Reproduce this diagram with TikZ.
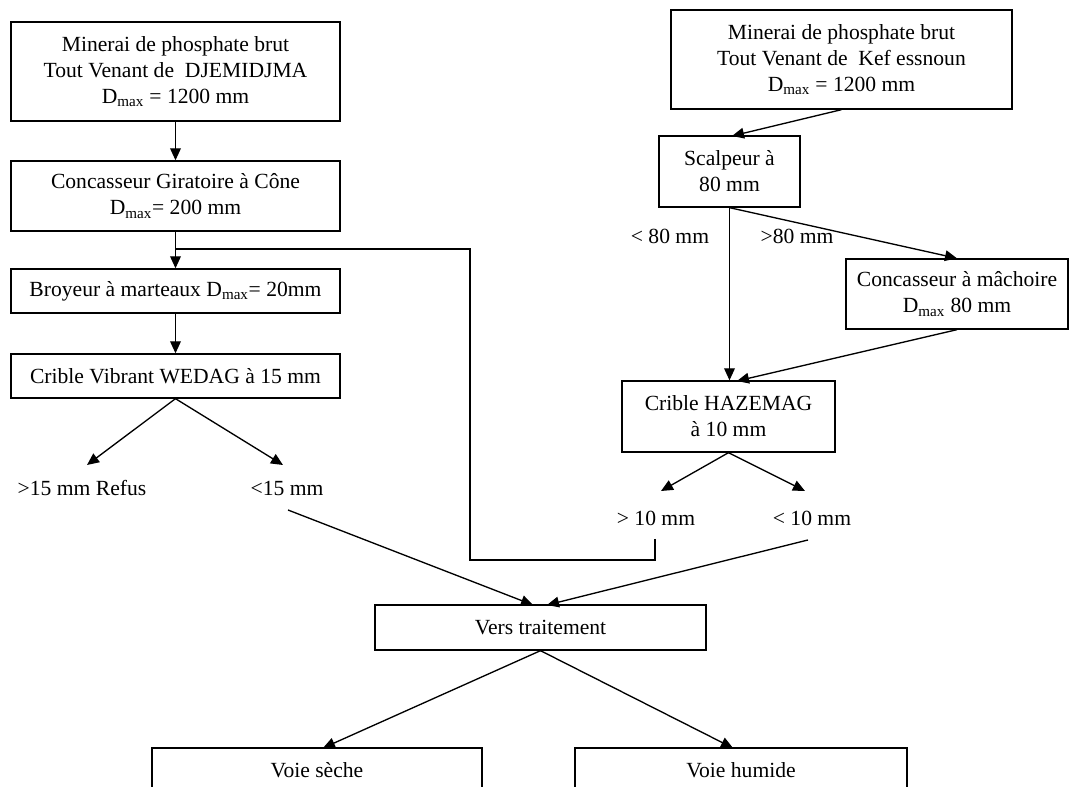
\documentclass[tikz,border=0pt]{standalone}
\usepackage{fontspec}
\setmainfont{Liberation Serif}
\usetikzlibrary{arrows.meta}
\begin{document}
\begin{tikzpicture}[x=0.75pt,y=-0.75pt,
  box/.style={draw,line width=1pt,align=center,inner sep=0pt,font=\fontsize{16.2}{19.5}\selectfont},
  lbl/.style={inner sep=0pt,font=\fontsize{16.2}{19.5}\selectfont},
  conn/.style={line width=1pt},
  arr/.style={conn,-{Triangle[length=9pt,width=8pt]}}]
\useasboundingbox (0,0) rectangle (1075,787);
\clip (0,0) rectangle (1075,787);
% left column
\node[box,minimum width=246.75pt,minimum height=74.25pt] (b1) at (175.5,71.5)
  {Minerai de phosphate brut\\Tout Venant de\ \ DJEMIDJMA\\D\textsubscript{max} = 1200 mm};
\node[box,minimum width=246.75pt,minimum height=52.5pt] (b2) at (175.5,196)
  {Concasseur\ Giratoire à Cône\\D\textsubscript{max}= 200 mm};
\node[box,minimum width=246.75pt,minimum height=33pt] (b3) at (175.5,291)
  {Broyeur à marteaux D\textsubscript{max}= 20mm};
\node[box,minimum width=246.75pt,minimum height=33pt] (b4) at (175.5,376)
  {Crible Vibrant WEDAG à 15 mm};
\node[lbl] (refus) at (82,488) {>15 mm Refus};
\node[lbl] (l15) at (287,488) {<15 mm};
% right column
\node[box,minimum width=255.75pt,minimum height=74.25pt] (r1) at (841.5,59.5)
  {Minerai de phosphate brut\\Tout Venant de\ \ Kef essnoun\\D\textsubscript{max} = 1200 mm};
\node[box,minimum width=105.75pt,minimum height=53.25pt] (sc) at (729.5,171.5)
  {Scalpeur à\\80 mm};
\node[lbl] (lt80) at (670,236) {< 80 mm};
\node[lbl] (gt80) at (797,236) {>80 mm};
\node[box,minimum width=166.5pt,minimum height=52.5pt] (cm) at (957,294)
  {Concasseur à mâchoire\\D\textsubscript{max} 80 mm};
\node[box,minimum width=159.75pt,minimum height=53.25pt] (ch) at (728.5,416.5)
  {Crible HAZEMAG\\à 10 mm};
\node[lbl] (g10) at (656,518) {> 10 mm};
\node[lbl] (l10) at (812,518) {< 10 mm};
% bottom
\node[box,minimum width=248.25pt,minimum height=33.75pt] (vt) at (540.5,627.5) {Vers traitement};
\node[box,minimum width=247.5pt,minimum height=33.75pt] (vs) at (317,770.5) {Voie sèche};
\node[box,minimum width=249pt,minimum height=33.75pt] (vh) at (741,770.5) {Voie humide};
% coordinates
\coordinate (g10out) at (655,539);
\coordinate (fbcorner) at (470,560);
\coordinate (fbtop) at (470,249);
\coordinate (t15a) at (87,465);
\coordinate (t15b) at (283,465);
\coordinate (l15out) at (288,510);
\coordinate (vtin1) at (533,605);
\coordinate (scin) at (732,136);
\coordinate (chin2) at (737,381);
\coordinate (t10a) at (661,491);
\coordinate (t10b) at (805,491);
\coordinate (l10out) at (808,540);
\coordinate (vtin2) at (547,605);
\coordinate (vsin) at (323,748);
\coordinate (vhin) at (733,748);
% connectors
\draw[arr] (b1.south) -- (b2.north);
\draw[arr] (b2.south) -- (b3.north);
\draw[conn] (g10out) |- (fbcorner) -- (fbtop) -- (b2.south |- fbtop);
\draw[arr] (b3.south) -- (b4.north);
\draw[arr] (b4.south) -- (t15a);
\draw[arr] (b4.south) -- (t15b);
\draw[arr] (l15out) -- (vtin1);
\draw[arr] (r1.south) -- (scin);
\draw[arr] (sc.south) -- (sc.south |- ch.north);
\draw[arr] (sc.south) -- (cm.north);
\draw[arr] (cm.south) -- (chin2);
\draw[arr] (ch.south) -- (t10a);
\draw[arr] (ch.south) -- (t10b);
\draw[arr] (l10out) -- (vtin2);
\draw[arr] (vt.south) -- (vsin);
\draw[arr] (vt.south) -- (vhin);
\end{tikzpicture}
\end{document}
